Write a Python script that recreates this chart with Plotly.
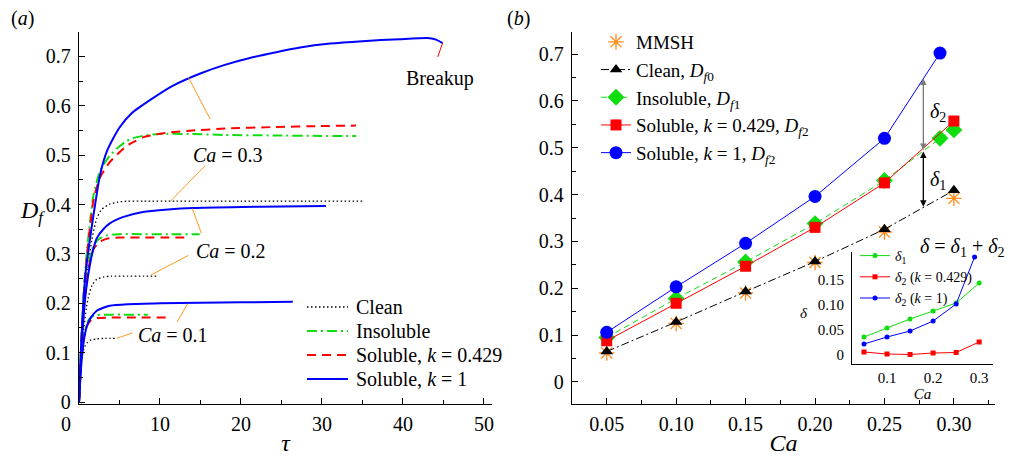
import plotly.graph_objects as go

W, H = 1014, 462
FONT = "Liberation Serif, Times New Roman, Times, serif"

# ---------------- Panel (a): D_f versus tau ----------------
# Ca = 0.3
tau_clean_03 = [0, 0.3, 0.6, 0.9, 1.2, 1.6, 2.2, 2.8, 3.8, 4.8, 6, 8, 12, 20, 28, 35]
D_clean_03 = [0, 0.10, 0.18, 0.24, 0.285, 0.33, 0.372, 0.39, 0.401, 0.405, 0.407, 0.407, 0.407, 0.407, 0.407, 0.407]
tau_insol_03 = [0, 0.3, 0.6, 1.0, 1.4, 1.8, 2.6, 3.8, 5.0, 5.9, 7.0, 8.5, 10.0, 13.5, 18, 24, 29.8, 34.2]
D_insol_03 = [0, 0.13, 0.23, 0.31, 0.37, 0.42, 0.468, 0.499, 0.518, 0.529, 0.536, 0.541, 0.543, 0.543, 0.541, 0.540, 0.539, 0.539]
tau_solA_03 = [0, 0.3, 0.6, 1.0, 1.4, 1.8, 2.6, 3.8, 5.0, 5.9, 7.0, 7.9, 9.5, 11.2, 14.0, 18.3, 24.0, 29.8, 34.2]
D_solA_03 = [0, 0.12, 0.22, 0.30, 0.36, 0.41, 0.455, 0.486, 0.506, 0.519, 0.529, 0.536, 0.542, 0.546, 0.550, 0.554, 0.557, 0.559, 0.560]
tau_solB_03 = [0, 0.25, 0.5, 0.8, 1.36, 1.8, 2.6, 3.5, 5.0, 6.5, 8.8, 11.5, 14.9, 18.0, 21.1, 24.5, 27.3, 31.0, 35.0, 39.6, 43.3, 44.1, 44.9]
D_solB_03 = [0, 0.11, 0.19, 0.26, 0.33, 0.38, 0.46, 0.51, 0.556, 0.585, 0.612, 0.640, 0.665, 0.683, 0.697, 0.709, 0.718, 0.726, 0.731, 0.735, 0.737, 0.734, 0.727]
# Ca = 0.2
tau_clean_02 = [0, 0.3, 0.6, 0.9, 1.15, 1.6, 2.2, 3, 4, 6, 8, 9.8]
D_clean_02 = [0, 0.09, 0.15, 0.19, 0.212, 0.236, 0.249, 0.253, 0.255, 0.255, 0.255, 0.255]
tau_insol_02 = [0, 0.3, 0.6, 0.9, 1.3, 1.8, 2.6, 3.5, 5, 8, 11, 14.9]
D_insol_02 = [0, 0.12, 0.20, 0.25, 0.29, 0.318, 0.332, 0.338, 0.34, 0.34, 0.34, 0.34]
tau_solA_02 = [0, 0.3, 0.6, 0.9, 1.3, 1.8, 2.6, 3.5, 5, 8, 11, 13.3]
D_solA_02 = [0, 0.11, 0.19, 0.24, 0.28, 0.31, 0.325, 0.331, 0.333, 0.333, 0.333, 0.333]
tau_solB_02 = [0, 0.3, 0.6, 0.9, 1.36, 1.8, 2.2, 3.0, 3.8, 5.5, 7.9, 11, 14.1, 20, 25, 30.5]
D_solB_02 = [0, 0.11, 0.18, 0.23, 0.279, 0.312, 0.332, 0.35, 0.362, 0.375, 0.385, 0.39, 0.393, 0.395, 0.396, 0.397]
# Ca = 0.1
tau_clean_01 = [0, 0.2, 0.4, 0.7, 1.0, 1.5, 2.2, 3.2, 4.65]
D_clean_01 = [0, 0.06, 0.095, 0.112, 0.12, 0.126, 0.128, 0.129, 0.129]
tau_insol_01 = [0, 0.3, 0.6, 1.0, 1.5, 2.2, 4, 6, 8.5]
D_insol_01 = [0, 0.09, 0.135, 0.16, 0.172, 0.176, 0.177, 0.177, 0.177]
tau_solA_01 = [0, 0.3, 0.6, 1.0, 1.5, 2.2, 4, 7, 10.7]
D_solA_01 = [0, 0.085, 0.13, 0.155, 0.166, 0.17, 0.171, 0.171, 0.171]
tau_solB_01 = [0, 0.3, 0.6, 1.0, 1.5, 2.2, 3.0, 3.8, 6, 10, 15, 20, 26.4]
D_solB_01 = [0, 0.08, 0.125, 0.155, 0.172, 0.185, 0.191, 0.195, 0.198, 0.2, 0.201, 0.202, 0.203]

tau_ticks = [0, 10, 20, 30, 40, 50]
D_ticks = [0, 0.1, 0.2, 0.3, 0.4, 0.5, 0.6, 0.7]

# ---------------- Panel (b): D_f versus Ca ----------------
Ca_main = [0.05, 0.10, 0.15, 0.20, 0.25, 0.30]
D_mmsh = [0.062, 0.125, 0.190, 0.255, 0.320, 0.392]
D_f0 = [0.065, 0.128, 0.193, 0.257, 0.326, 0.409]
Ca_insol = [0.05, 0.10, 0.15, 0.20, 0.25, 0.29, 0.30]
D_f1 = [0.095, 0.178, 0.256, 0.338, 0.430, 0.520, 0.538]
D_f2_k0429 = [0.088, 0.168, 0.247, 0.330, 0.425, 0.557]
Ca_k1 = [0.05, 0.10, 0.15, 0.20, 0.25, 0.29]
D_f2_k1 = [0.106, 0.203, 0.296, 0.396, 0.520, 0.702]
Ca_ticks = [0.05, 0.10, 0.15, 0.20, 0.25, 0.30]

# ---------------- Inset: delta versus Ca ----------------
Ca_d1 = [0.05, 0.10, 0.15, 0.20, 0.25, 0.30]
delta1 = [0.036, 0.054, 0.072, 0.088, 0.104, 0.144]
Ca_d2a = [0.05, 0.10, 0.15, 0.20, 0.25, 0.30]
delta2_k0429 = [0.006, 0.002, 0.001, 0.004, 0.005, 0.026]
Ca_d2b = [0.05, 0.10, 0.15, 0.20, 0.25, 0.29]
delta2_k1 = [0.022, 0.036, 0.048, 0.068, 0.102, 0.196]
inset_x_ticks = [0.1, 0.2, 0.3]
inset_y_ticks = [0, 0.05, 0.10, 0.15]

BLUE, RED, GREEN, BLACK, ORANGE = "#0000ff", "#ff0000", "#10dd10", "#000000", "#ff8c1a"

def px(x):
    return x / W

def py(y):
    return 1 - y / H

fig = go.Figure()

styles = {
    "clean": dict(color=BLACK, width=1.3, dash="1.5px,2.5px"),
    "insol": dict(color=GREEN, width=2, dash="10px,4px,2px,4px"),
    "solA": dict(color=RED, width=2, dash="9px,6px"),
    "solB": dict(color=BLUE, width=2),
}
curves = [
    ("clean", tau_clean_03, D_clean_03), ("clean", tau_clean_02, D_clean_02), ("clean", tau_clean_01, D_clean_01),
    ("insol", tau_insol_03, D_insol_03), ("insol", tau_insol_02, D_insol_02), ("insol", tau_insol_01, D_insol_01),
    ("solA", tau_solA_03, D_solA_03), ("solA", tau_solA_02, D_solA_02), ("solA", tau_solA_01, D_solA_01),
    ("solB", tau_solB_03, D_solB_03), ("solB", tau_solB_02, D_solB_02), ("solB", tau_solB_01, D_solB_01),
]
for kind, t, d in curves:
    fig.add_trace(go.Scatter(x=t, y=d, mode="lines", line=dict(shape="spline", smoothing=0.6, **styles[kind]),
                             showlegend=False, xaxis="x", yaxis="y", hoverinfo="skip"))

# Panel (b)
fig.add_trace(go.Scatter(x=Ca_main, y=D_mmsh, mode="markers", name="MMSH",
                         marker=dict(symbol="asterisk-open", size=13, color=ORANGE, line=dict(color=ORANGE, width=1.3)),
                         xaxis="x2", yaxis="y2", legend="legend"))
fig.add_trace(go.Scatter(x=Ca_main, y=D_f0, mode="lines+markers", name="Clean, <i>D</i><sub><i>f</i>0</sub>",
                         line=dict(color=BLACK, width=1, dash="8px,3px,2px,3px"),
                         marker=dict(symbol="triangle-up", size=11, color=BLACK),
                         xaxis="x2", yaxis="y2", legend="legend"))
fig.add_trace(go.Scatter(x=Ca_insol, y=D_f1, mode="lines+markers", name="Insoluble, <i>D</i><sub><i>f</i>1</sub>",
                         line=dict(color=GREEN, width=1, dash="6px,4px"),
                         marker=dict(symbol="diamond", size=13, color=GREEN),
                         xaxis="x2", yaxis="y2", legend="legend"))
fig.add_trace(go.Scatter(x=Ca_main, y=D_f2_k0429, mode="lines+markers",
                         name="Soluble, <i>k</i> = 0.429, <i>D</i><sub><i>f</i>2</sub>",
                         line=dict(color=RED, width=1), marker=dict(symbol="square", size=11, color=RED),
                         xaxis="x2", yaxis="y2", legend="legend"))
fig.add_trace(go.Scatter(x=Ca_k1, y=D_f2_k1, mode="lines+markers",
                         name="Soluble, <i>k</i> = 1, <i>D</i><sub><i>f</i>2</sub>",
                         line=dict(color=BLUE, width=1), marker=dict(symbol="circle", size=13, color=BLUE),
                         xaxis="x2", yaxis="y2", legend="legend"))

# Inset
fig.add_trace(go.Scatter(x=Ca_d1, y=delta1, mode="lines+markers", name="<i>δ</i><sub>1</sub>",
                         line=dict(color=GREEN, width=1), marker=dict(symbol="circle", size=5, color=GREEN),
                         xaxis="x3", yaxis="y3", legend="legend2"))
fig.add_trace(go.Scatter(x=Ca_d2a, y=delta2_k0429, mode="lines+markers",
                         name="<i>δ</i><sub>2</sub> (<i>k</i> = 0.429)",
                         line=dict(color=RED, width=1), marker=dict(symbol="square", size=5, color=RED),
                         xaxis="x3", yaxis="y3", legend="legend2"))
fig.add_trace(go.Scatter(x=Ca_d2b, y=delta2_k1, mode="lines+markers",
                         name="<i>δ</i><sub>2</sub> (<i>k</i> = 1)",
                         line=dict(color=BLUE, width=1), marker=dict(symbol="circle", size=5, color=BLUE),
                         xaxis="x3", yaxis="y3", legend="legend2"))

axis_common = dict(showline=True, linecolor="black", linewidth=1.3, ticks="inside", ticklen=6, tickwidth=1.3,
                   tickcolor="black", showgrid=False, zeroline=False, automargin=False,
                   tickfont=dict(family=FONT, size=20, color="black"))

YDOM = [py(404), py(32)]

fig.update_layout(
    width=W, height=H, margin=dict(l=0, r=0, t=0, b=0),
    paper_bgcolor="white", plot_bgcolor="white",
    font=dict(family=FONT, size=20, color="black"),
    xaxis=dict(domain=[px(79), px(492)], range=[0, 51.0], anchor="y", tickmode="array", tickvals=tau_ticks,
               ticktext=[""] + [str(v) for v in tau_ticks[1:]], ticklabelstandoff=2,
               minor=dict(tickmode="linear", tick0=5, dtick=10, ticks="inside", ticklen=4, tickcolor="black"),
               title=dict(text="<i>τ</i>", font=dict(family=FONT, size=24), standoff=0), **axis_common),
    yaxis=dict(domain=YDOM, range=[-0.004, 0.7495], anchor="x", tickmode="array", tickvals=D_ticks,
               ticktext=["0", "0.1", "0.2", "0.3", "0.4", "0.5", "0.6", "0.7"], ticklabelstandoff=3,
               minor=dict(tickmode="linear", tick0=0.05, dtick=0.1, ticks="inside", ticklen=4, tickcolor="black"),
               **axis_common),
    xaxis2=dict(domain=[px(572), px(995)], range=[0.025, 0.3296], anchor="y2", tickmode="array", tickvals=Ca_ticks,
                ticktext=["0.05", "0.10", "0.15", "0.20", "0.25", "0.30"], ticklabelstandoff=2,
                minor=dict(tickmode="linear", tick0=0.025, dtick=0.05, ticks="inside", ticklen=4, tickcolor="black"),
                title=dict(text="<i>Ca</i>", font=dict(family=FONT, size=24), standoff=0), **axis_common),
    yaxis2=dict(domain=YDOM, range=[-0.047, 0.747], anchor="x2", tickmode="array", tickvals=D_ticks,
                ticktext=["0", "0.1", "0.2", "0.3", "0.4", "0.5", "0.6", "0.7"], ticklabelstandoff=3,
                minor=dict(tickmode="linear", tick0=0.05, dtick=0.1, ticks="inside", ticklen=4, tickcolor="black"),
                **axis_common),
    xaxis3=dict(domain=[px(852), px(993)], range=[0.024, 0.33], anchor="y3", tickmode="array",
                tickvals=inset_x_ticks, ticktext=["0.1", "0.2", "0.3"], showline=True, linecolor="black",
                linewidth=1, ticks="", showgrid=False, zeroline=False, automargin=False,
                tickfont=dict(family=FONT, size=15, color="black"),
                title=dict(text="<i>Ca</i>", font=dict(family=FONT, size=15), standoff=0)),
    yaxis3=dict(domain=[py(364), py(252)], range=[-0.018, 0.206], anchor="x3", tickmode="array",
                tickvals=inset_y_ticks, ticktext=["0", "0.05", "0.10", "0.15"], showline=True, linecolor="black",
                linewidth=1, ticks="", showgrid=False, zeroline=False, automargin=False,
                tickfont=dict(family=FONT, size=15, color="black"), ticklabelstandoff=4),
    legend=dict(x=px(596), y=py(23), xanchor="left", yanchor="top", bgcolor="rgba(0,0,0,0)",
                font=dict(family=FONT, size=19, color="black"), itemwidth=30, tracegroupgap=0),
    legend2=dict(x=px(855), y=py(240), xanchor="left", yanchor="top", bgcolor="rgba(0,0,0,0)",
                 font=dict(family=FONT, size=14, color="black"), itemwidth=30, tracegroupgap=0),
)

ann = []
shapes = []

def text(x, y, s, size=20, ref="paper", xanchor="center"):
    if ref == "paper":
        ann.append(dict(x=px(x), y=py(y), xref="paper", yref="paper", text=s, showarrow=False,
                        font=dict(family=FONT, size=size, color="black"), xanchor=xanchor, yanchor="middle"))
    else:
        xr, yr = ref
        ann.append(dict(x=x, y=y, xref=xr, yref=yr, text=s, showarrow=False,
                        font=dict(family=FONT, size=size, color="black"), xanchor=xanchor, yanchor="middle"))

# panel labels and titles
text(22, 18, "(<i>a</i>)")
text(518, 18, "(<i>b</i>)")
text(32, 212, "<i>D</i><sub><i>f</i></sub>", size=24)
text(66, 424, "0")
text(804, 313, "<i>δ</i>", size=15)

# panel (a) Ca labels and leader lines
text(18.4, 0.50, "<i>Ca</i> = 0.3", ref=("x", "y"))
text(18.8, 0.305, "<i>Ca</i> = 0.2", ref=("x", "y"))
text(11.6, 0.135, "<i>Ca</i> = 0.1", ref=("x", "y"))
text(44.6, 0.655, "Breakup", ref=("x", "y"))
leaders = [((13.5, 0.658), (16.2, 0.573)), ((15.6, 0.479), (11.3, 0.407)),
           ((14.0, 0.392), (15.1, 0.342)), ((13.5, 0.297), (8.85, 0.257)),
           ((13.4, 0.199), (12.1, 0.162)), ((6.6, 0.14), (4.65, 0.129))]
for (x0, y0), (x1, y1) in leaders:
    shapes.append(dict(type="line", xref="x", yref="y", x0=x0, y0=y0, x1=x1, y1=y1,
                       line=dict(color="#ff9a1f", width=1)))
shapes.append(dict(type="line", xref="x", yref="y", x0=44.9, y0=0.727, x1=44.3, y1=0.699,
                   line=dict(color=RED, width=1)))

# panel (a) legend (drawn manually)
leg_a = [("Clean", styles["clean"], 307), ("Insoluble", styles["insol"], 331),
         ("Soluble, <i>k</i> = 0.429", styles["solA"], 355), ("Soluble, <i>k</i> = 1", styles["solB"], 379)]
for label, st, yy in leg_a:
    shapes.append(dict(type="line", xref="paper", yref="paper", x0=px(307), x1=px(348), y0=py(yy), y1=py(yy),
                       line=dict(color=st["color"], width=st["width"], dash=st.get("dash", "solid"))))
    text(354, yy, label, xanchor="left")

# panel (b) delta arrows
ann.append(dict(x=0.278, y=0.495, ax=0.278, ay=0.651, xref="x2", yref="y2", axref="x2", ayref="y2",
                text="", showarrow=True, arrowhead=2, arrowside="end+start", arrowsize=1, arrowwidth=1.3,
                arrowcolor="#7a7a7a", standoff=0, startstandoff=0))
ann.append(dict(x=0.278, y=0.374, ax=0.278, ay=0.495, xref="x2", yref="y2", axref="x2", ayref="y2",
                text="", showarrow=True, arrowhead=2, arrowside="end+start", arrowsize=1, arrowwidth=1.3,
                arrowcolor="black", standoff=0, startstandoff=0))
text(0.2885, 0.576, "<i>δ</i><sub>2</sub>", ref=("x2", "y2"))
text(0.2885, 0.431, "<i>δ</i><sub>1</sub>", ref=("x2", "y2"))
text(962, 247, "<i>δ</i> = <i>δ</i><sub>1</sub> + <i>δ</i><sub>2</sub>")

fig.update_layout(annotations=ann, shapes=shapes)
fig.write_html("out.html", config={"displayModeBar": False},
               post_script="document.body.style.margin='0';document.body.style.overflow='hidden';")
